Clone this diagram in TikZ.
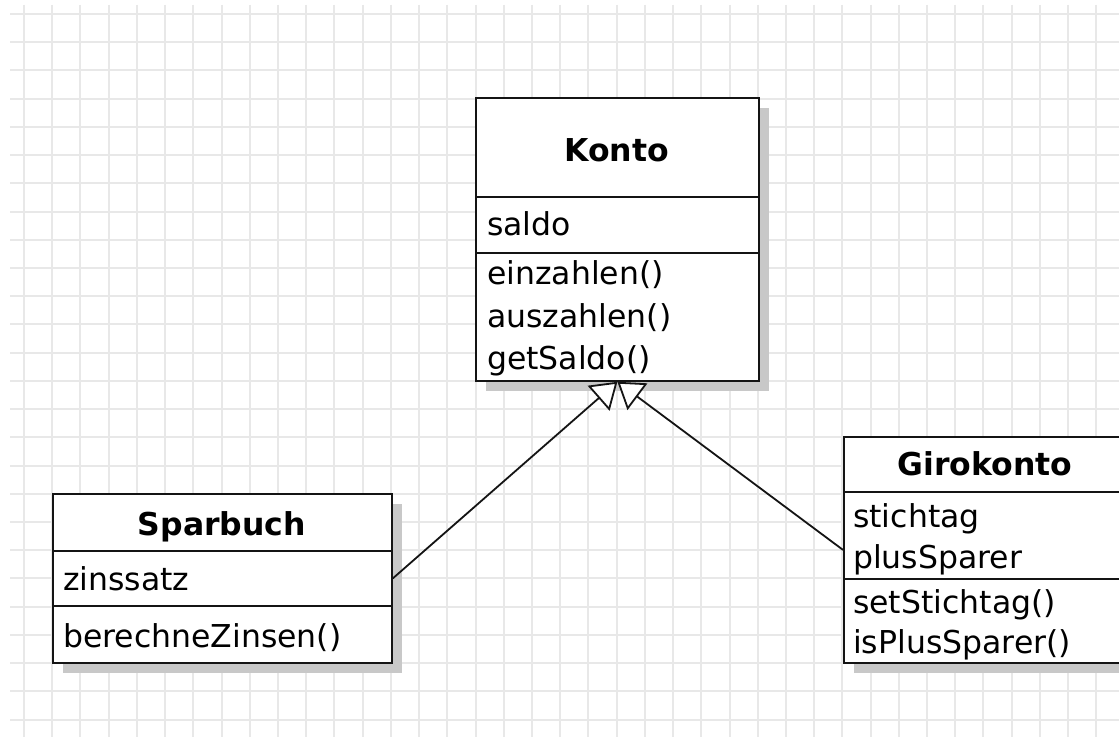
\documentclass[tikz,border=0pt]{standalone}
\usepackage{fontspec}
\setmainfont{DejaVu Sans}
\usetikzlibrary{arrows.meta,shadows}
\definecolor{gridc}{RGB}{232,232,232}
\definecolor{shadowc}{RGB}{200,200,200}
\definecolor{linec}{RGB}{20,20,20}
\begin{document}
\begin{tikzpicture}[x=1bp,y=-1bp,
  gridline/.style={draw=gridc,line width=2bp},
  classbox/.style={draw=linec,line width=1.8bp,fill=white,anchor=north west,inner sep=0pt,
     drop shadow={shadow xshift=10bp,shadow yshift=-10bp,fill=shadowc,opacity=1}},
  divider/.style={draw=linec,line width=1.8bp},
  member/.style={anchor=base west,inner sep=0pt,font=\fontsize{31.5bp}{40bp}\selectfont},
  classtitle/.style={anchor=base,inner sep=0pt,font=\fontsize{31.5bp}{40bp}\selectfont\bfseries},
  inherit/.style={draw=linec,line width=1.8bp,-{Triangle[length=25bp,width=33bp,fill=white]}}
]
\path[use as bounding box] (0,0) rectangle (1119,737);
\clip (0,0) rectangle (1119,737);
\fill[white] (0,0) rectangle (1119,737);
% grid
\foreach \i in {0,...,38} \draw[gridline] (24+28.22*\i,5) -- (24+28.22*\i,737);
\foreach \j in {0,...,25} \draw[gridline] (10,14+28.22*\j) -- (1119,14+28.22*\j);

% Konto
\node[classbox,minimum width=283bp,minimum height=283bp] (konto) at (475,97) {};
\draw[divider] (475,197) -- (758,197);
\draw[divider] (475,253) -- (758,253);
\node[classtitle] (kontoT) at (616.5,161) {Konto};
\node[member] (k1) at (487,235) {saldo};
\node[member] (k2) at (487,284) {einzahlen()};
\node[member] (k3) at (487,327) {auszahlen()};
\node[member] (k4) at (487,369) {getSaldo()};

% Sparbuch
\node[classbox,minimum width=339bp,minimum height=169bp] (spar) at (52,493) {};
\draw[divider] (52,551) -- (391,551);
\draw[divider] (52,606) -- (391,606);
\node[classtitle] (sparT) at (222,535) {Sparbuch};
\node[member] (s1) at (63,590) {zinssatz};
\node[member] (s2) at (63,647) {berechneZinsen()};

% Girokonto
\node[classbox,minimum width=284bp,minimum height=226bp] (giro) at (843,436) {};
\draw[divider] (843,492) -- (1127,492);
\draw[divider] (843,579) -- (1127,579);
\node[classtitle] (giroT) at (985,475) {Girokonto};
\node[member] (g1) at (853,527) {stichtag};
\node[member] (g2) at (853,568) {plusSparer};
\node[member] (g3) at (853,613) {setStichtag()};
\node[member] (g4) at (853,653) {isPlusSparer()};

% generalizations
\draw[inherit] (spar.east) -- (konto.south);
\draw[inherit] (giro.west) -- (konto.south);
\end{tikzpicture}
\end{document}
